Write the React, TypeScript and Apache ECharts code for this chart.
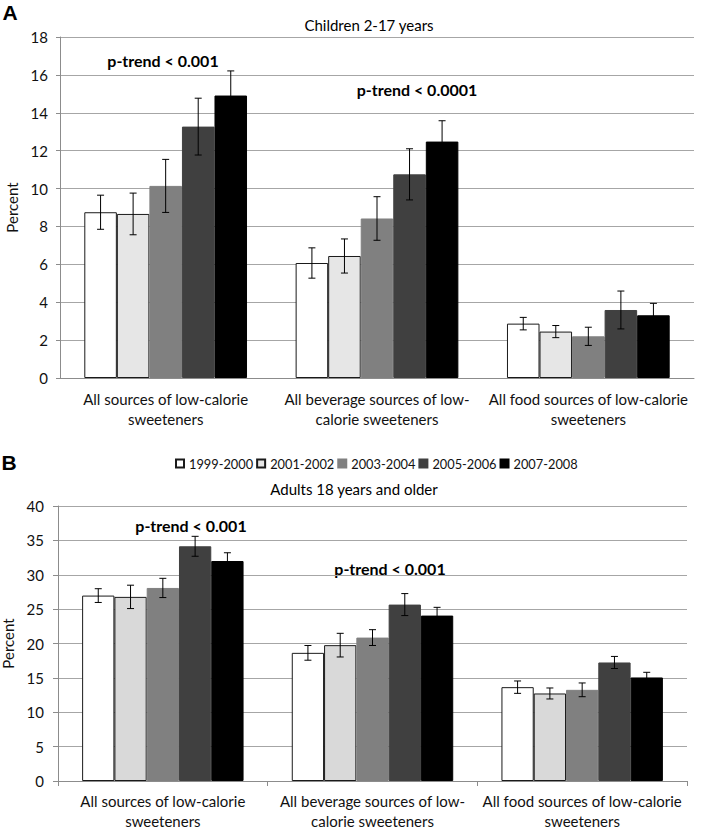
import React, { useEffect, useRef } from "react";
import * as echarts from "echarts";

const categories = [
  "All sources of low-calorie\nsweeteners",
  "All beverage sources of low-\ncalorie sweeteners",
  "All food sources of low-calorie\nsweeteners",
];
const periods = ["1999-2000", "2001-2002", "2003-2004", "2005-2006", "2007-2008"];

// Children 2-17 years (percent) and half-width of error bars
const child1999 = [8.75, 6.07, 2.87];
const child2001 = [8.66, 6.44, 2.45];
const child2003 = [10.14, 8.42, 2.2];
const child2005 = [13.27, 10.75, 3.59];
const child2007 = [14.91, 12.48, 3.31];
const childErr1999 = [0.9, 0.8, 0.33];
const childErr2001 = [1.1, 0.9, 0.32];
const childErr2003 = [1.4, 1.15, 0.48];
const childErr2005 = [1.5, 1.35, 1.0];
const childErr2007 = [1.3, 1.1, 0.63];

// Adults 18 years and older
const adult1999 = [26.97, 18.64, 13.65];
const adult2001 = [26.78, 19.76, 12.73];
const adult2003 = [28.08, 20.86, 13.26];
const adult2005 = [34.14, 25.66, 17.24];
const adult2007 = [32.0, 24.06, 15.06];
const adultErr1999 = [1.0, 1.07, 0.9];
const adultErr2001 = [1.7, 1.72, 0.8];
const adultErr2003 = [1.4, 1.15, 1.0];
const adultErr2005 = [1.45, 1.6, 0.88];
const adultErr2007 = [1.2, 1.2, 0.75];

const childTicks = [0, 2, 4, 6, 8, 10, 12, 14, 16, 18];
const adultTicks = [0, 5, 10, 15, 20, 25, 30, 35, 40];

const FONT = "Lato, 'Open Sans', sans-serif";
const GAP = 0.23;

export default function App() {
  const ref = useRef<HTMLDivElement>(null);
  useEffect(() => {
    document.body.style.margin = "0";
    if (!ref.current) return;
    const chart = echarts.init(ref.current, undefined, { renderer: "svg" });

    const childVals = [child1999, child2001, child2003, child2005, child2007];
    const childErrs = [childErr1999, childErr2001, childErr2003, childErr2005, childErr2007];
    const adultVals = [adult1999, adult2001, adult2003, adult2005, adult2007];
    const adultErrs = [adultErr1999, adultErr2001, adultErr2003, adultErr2005, adultErr2007];

    const fillsTop = ["#ffffff", "#e6e6e6", "#808080", "#404040", "#000000"];
    const fillsBot = ["#ffffff", "#d9d9d9", "#808080", "#404040", "#000000"];
    const borders = ["#1a1a1a", "#1a1a1a", "#808080", "#404040", "#000000"];

    const errRender = (idx: number) => (params: any, api: any) => {
      const cat = api.value(0);
      const lo = api.coord([cat, api.value(1)]);
      const hi = api.coord([cat, api.value(2)]);
      const band = api.size([1, 0])[0];
      const barW = (band * (1 - GAP)) / 5;
      const x = lo[0] + (idx - 2) * barW;
      const cap = 3.5;
      const st = { stroke: "#000", lineWidth: 1 };
      return {
        type: "group",
        children: [
          { type: "line", shape: { x1: x, y1: hi[1], x2: x, y2: lo[1] }, style: st },
          { type: "line", shape: { x1: x - cap, y1: hi[1], x2: x + cap, y2: hi[1] }, style: st },
          { type: "line", shape: { x1: x - cap, y1: lo[1], x2: x + cap, y2: lo[1] }, style: st },
        ],
      };
    };

    const series: any[] = [];
    [0, 1].forEach((g) => {
      const vals = g === 0 ? childVals : adultVals;
      const errs = g === 0 ? childErrs : adultErrs;
      const fills = g === 0 ? fillsTop : fillsBot;
      periods.forEach((p, i) => {
        series.push({
          type: "bar",
          name: p,
          xAxisIndex: g,
          yAxisIndex: g,
          data: vals[i],
          barGap: "0%",
          barCategoryGap: "23%",
          itemStyle: { color: fills[i], borderColor: borders[i], borderWidth: 1 },
          z: 2,
        });
      });
      periods.forEach((p, i) => {
        series.push({
          type: "custom",
          name: p + " error",
          xAxisIndex: g,
          yAxisIndex: g,
          renderItem: errRender(i),
          data: vals[i].map((v, c) => [c, v - errs[i][c], v + errs[i][c]]),
          encode: { x: 0, y: [1, 2] },
          z: 5,
          silent: true,
        });
      });
    });

    const yAxisBase = (min: number, max: number, interval: number, nameGap: number, tickLen: number, margin: number, idx: number) => ({
      type: "value",
      gridIndex: idx,
      min,
      max,
      interval,
      name: "Percent",
      nameLocation: "middle",
      nameGap,
      nameTextStyle: { fontFamily: FONT, fontSize: 15, color: "#111" },
      axisLine: { show: true, lineStyle: { color: "#8c8c8c", width: 1 } },
      axisTick: { show: true, length: tickLen, lineStyle: { color: "#8c8c8c" } },
      axisLabel: { fontFamily: FONT, fontSize: 15, color: "#111", margin },
      splitLine: { show: true, lineStyle: { color: "#a6a6a6", width: 1 } },
    });

    const xAxisBase = (idx: number, showTick: boolean, margin: number) => ({
      type: "category",
      gridIndex: idx,
      data: categories,
      axisLine: { show: true, lineStyle: { color: "#8c8c8c", width: 1 } },
      axisTick: { show: showTick, length: 5, lineStyle: { color: "#8c8c8c" } },
      axisLabel: {
        fontFamily: FONT,
        fontSize: 15,
        color: "#111",
        margin,
        lineHeight: 20,
        interval: 0,
      },
    });

    const txt = (text: string, x: number, y: number, size: number, bold: boolean, family = FONT) => ({
      type: "text",
      x,
      y,
      style: {
        text,
        fill: "#000",
        font: `${bold ? "bold " : ""}${size}px ${family}`,
        textAlign: "center",
        textVerticalAlign: "middle",
      },
    });

    chart.setOption({
      animation: false,
      backgroundColor: "#ffffff",
      legend: {
        data: periods,
        left: 170,
        top: 452,
        itemWidth: 8,
        itemHeight: 8,
        itemGap: 3,
        icon: "rect",
        textStyle: { fontFamily: FONT, fontSize: 12.8, color: "#111" },
      },
      grid: [
        { left: 60, right: 17, top: 37, bottom: 451, containLabel: false, outerBoundsMode: "none" },
        { left: 58, right: 24, top: 506, bottom: 48, containLabel: false, outerBoundsMode: "none" },
      ],
      xAxis: [xAxisBase(0, false, 11), xAxisBase(1, true, 10)],
      yAxis: [yAxisBase(0, 18, 2, 40, 4, 12, 0), yAxisBase(0, 40, 5, 38, 5, 14, 1)],
      series,
      graphic: [
        txt("A", 10, 12, 21, true, "'Liberation Sans', Arial, sans-serif"),
        txt("B", 9, 462, 21, true, "'Liberation Sans', Arial, sans-serif"),
        txt("Children 2-17 years", 369, 25, 15, false),
        txt("Adults 18 years and older", 354, 489, 15, false),
        txt("p-trend < 0.001", 163, 60, 16, true),
        txt("p-trend < 0.0001", 417, 89, 16, true),
        txt("p-trend < 0.001", 191, 525, 16, true),
        txt("p-trend < 0.001", 390, 568, 16, true),
      ],
    });

    return () => chart.dispose();
  }, []);

  return (
    <div
      ref={ref}
      style={{ position: "absolute", left: 0, top: 0, width: 711, height: 829 }}
    />
  );
}
